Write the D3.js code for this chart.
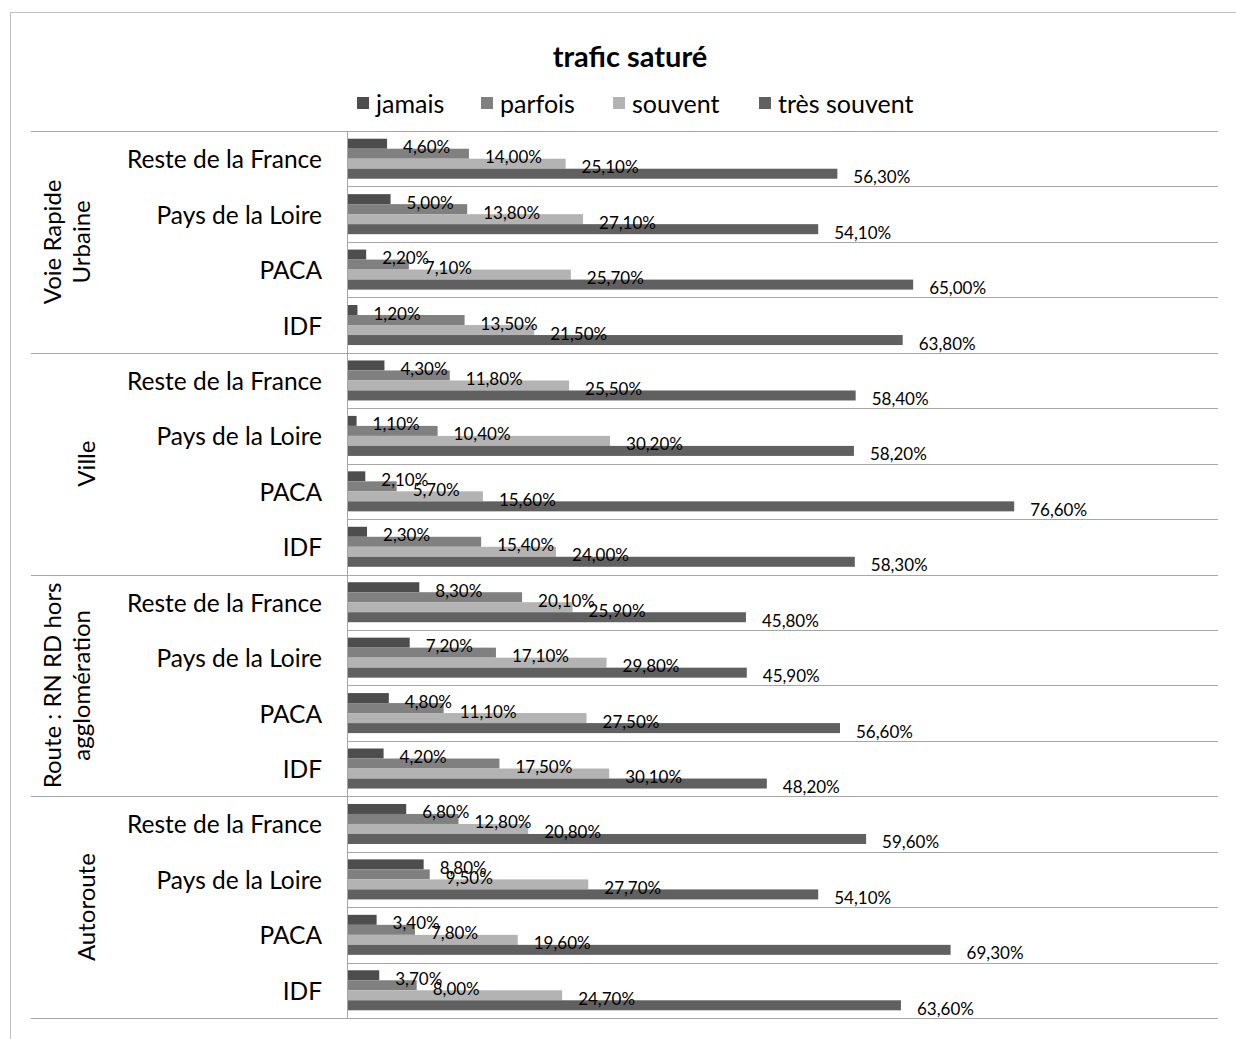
<!DOCTYPE html>
<html>
<head>
<meta charset="utf-8">
<script src="https://cdn.jsdelivr.net/npm/d3@7"></script>
<style>
  html, body { margin: 0; padding: 0; background: #fff; }
  svg { display: block; font-family: Lato, "Open Sans", sans-serif; }
</style>
</head>
<body>
<svg id="chart" width="1236" height="1039"></svg>
<script>
const title = "trafic saturé";
const groups = ["Voie Rapide Urbaine", "Ville", "Route : RN RD hors agglomération", "Autoroute"];
const groupLines = [["Voie Rapide", "Urbaine"], ["Ville"], ["Route : RN RD hors", "agglomération"], ["Autoroute"]];
const regions = ["Reste de la France", "Pays de la Loire", "PACA", "IDF"];
const seriesNames = ["jamais", "parfois", "souvent", "très souvent"];
const seriesColors = ["#4d4d4d", "#808080", "#b3b3b3", "#606060"];
// values per row (groups × regions, top to bottom), one array per series
const jamais      = [4.6, 5.0, 2.2, 1.2,  4.3, 1.1, 2.1, 2.3,  8.3, 7.2, 4.8, 4.2,  6.8, 8.8, 3.4, 3.7];
const parfois     = [14.0, 13.8, 7.1, 13.5, 11.8, 10.4, 5.7, 15.4, 20.1, 17.1, 11.1, 17.5, 12.8, 9.5, 7.8, 8.0];
const souvent     = [25.1, 27.1, 25.7, 21.5, 25.5, 30.2, 15.6, 24.0, 25.9, 29.8, 27.5, 30.1, 20.8, 27.7, 19.6, 24.7];
const tresSouvent = [56.3, 54.1, 65.0, 63.8, 58.4, 58.2, 76.6, 58.3, 45.8, 45.9, 56.6, 48.2, 59.6, 54.1, 69.3, 63.6];
const seriesValues = [jamais, parfois, souvent, tresSouvent];

const rows = [];
groups.forEach((g, gi) => regions.forEach((r, ri) => rows.push({ key: gi + "|" + ri, group: gi, region: r, idx: gi * regions.length + ri })));

const svg = d3.select("#chart");
const plotLeft = 347, plotRight = 1218, plotTop = 131, plotBottom = 1018, outerLeft = 31;

// outer frame
svg.append("rect").attr("x", 10.5).attr("y", 12.5).attr("width", 1260).attr("height", 1060)
  .attr("fill", "none").attr("stroke", "#bfbfbf").attr("stroke-width", 1);

const x = d3.scaleLinear().domain([0, 100]).range([plotLeft, plotRight]);
const y0 = d3.scaleBand().domain(rows.map(d => d.key)).range([plotTop, plotBottom]).padding(0);
const y1 = d3.scaleBand().domain(seriesNames).range([0, y0.bandwidth()]).paddingInner(0).paddingOuter(0.77);

// title
svg.append("text").attr("x", 630).attr("y", 55).attr("text-anchor", "middle").attr("dominant-baseline", "central")
  .attr("font-size", 29).attr("font-weight", "bold").attr("fill", "#000").text(title);

// legend
const legendX = [357, 481, 613, 759];
const lg = svg.append("g");
seriesNames.forEach((s, i) => {
  lg.append("rect").attr("x", legendX[i]).attr("y", 97).attr("width", 12).attr("height", 12).attr("fill", seriesColors[i]);
  lg.append("text").attr("x", legendX[i] + 19).attr("y", 103).attr("dominant-baseline", "central")
    .attr("font-size", 25).attr("fill", "#000").text(s);
});

// gridlines
const boundaries = d3.range(rows.length + 1);
svg.append("g").selectAll("line").data(boundaries).join("line")
  .attr("x1", i => (i % regions.length === 0) ? outerLeft : plotLeft)
  .attr("x2", plotRight)
  .attr("y1", i => Math.round(i < rows.length ? y0(rows[i].key) : plotBottom) + 0.5)
  .attr("y2", i => Math.round(i < rows.length ? y0(rows[i].key) : plotBottom) + 0.5)
  .attr("stroke", "#a6a6a6").attr("stroke-width", 1);

// bars
const barData = [];
rows.forEach(r => seriesNames.forEach((s, si) => barData.push({ row: r, s, si, v: seriesValues[si][r.idx] })));
svg.append("g").selectAll("rect").data(barData).join("rect")
  .attr("x", x(0))
  .attr("y", d => y0(d.row.key) + y1(d.s))
  .attr("width", d => x(d.v) - x(0))
  .attr("height", y1.bandwidth())
  .attr("fill", d => seriesColors[d.si]);

// value labels
const fmt = v => v.toFixed(2).replace(".", ",") + "%";
svg.append("g").selectAll("text").data(barData).join("text")
  .attr("x", d => x(d.v) + 16)
  .attr("y", d => y0(d.row.key) + y1(d.s) + y1.bandwidth() / 2 + 3)
  .attr("dominant-baseline", "central")
  .attr("font-size", 17).attr("fill", "#000")
  .text(d => fmt(d.v));

// axis line
svg.append("line").attr("x1", plotLeft + 0.5).attr("x2", plotLeft + 0.5).attr("y1", plotTop).attr("y2", plotBottom)
  .attr("stroke", "#a6a6a6").attr("stroke-width", 1);

// region labels
svg.append("g").selectAll("text").data(rows).join("text")
  .attr("x", 322).attr("y", d => y0(d.key) + y0.bandwidth() / 2)
  .attr("text-anchor", "end").attr("dominant-baseline", "central")
  .attr("font-size", 24.5).attr("fill", "#000").text(d => d.region);

// group labels (rotated)
groups.forEach((g, gi) => {
  const gy = (y0(rows[gi * 4].key) + y0(rows[gi * 4 + 3].key) + y0.bandwidth()) / 2;
  const lines = groupLines[gi];
  const xs = lines.length === 2 ? [51, 80] : [85];
  lines.forEach((ln, li) => {
    svg.append("text")
      .attr("transform", `translate(${xs[li]},${gy}) rotate(-90)`)
      .attr("text-anchor", "middle").attr("dominant-baseline", "central")
      .attr("font-size", 24).attr("fill", "#000").text(ln);
  });
});
</script>
</body>
</html>
